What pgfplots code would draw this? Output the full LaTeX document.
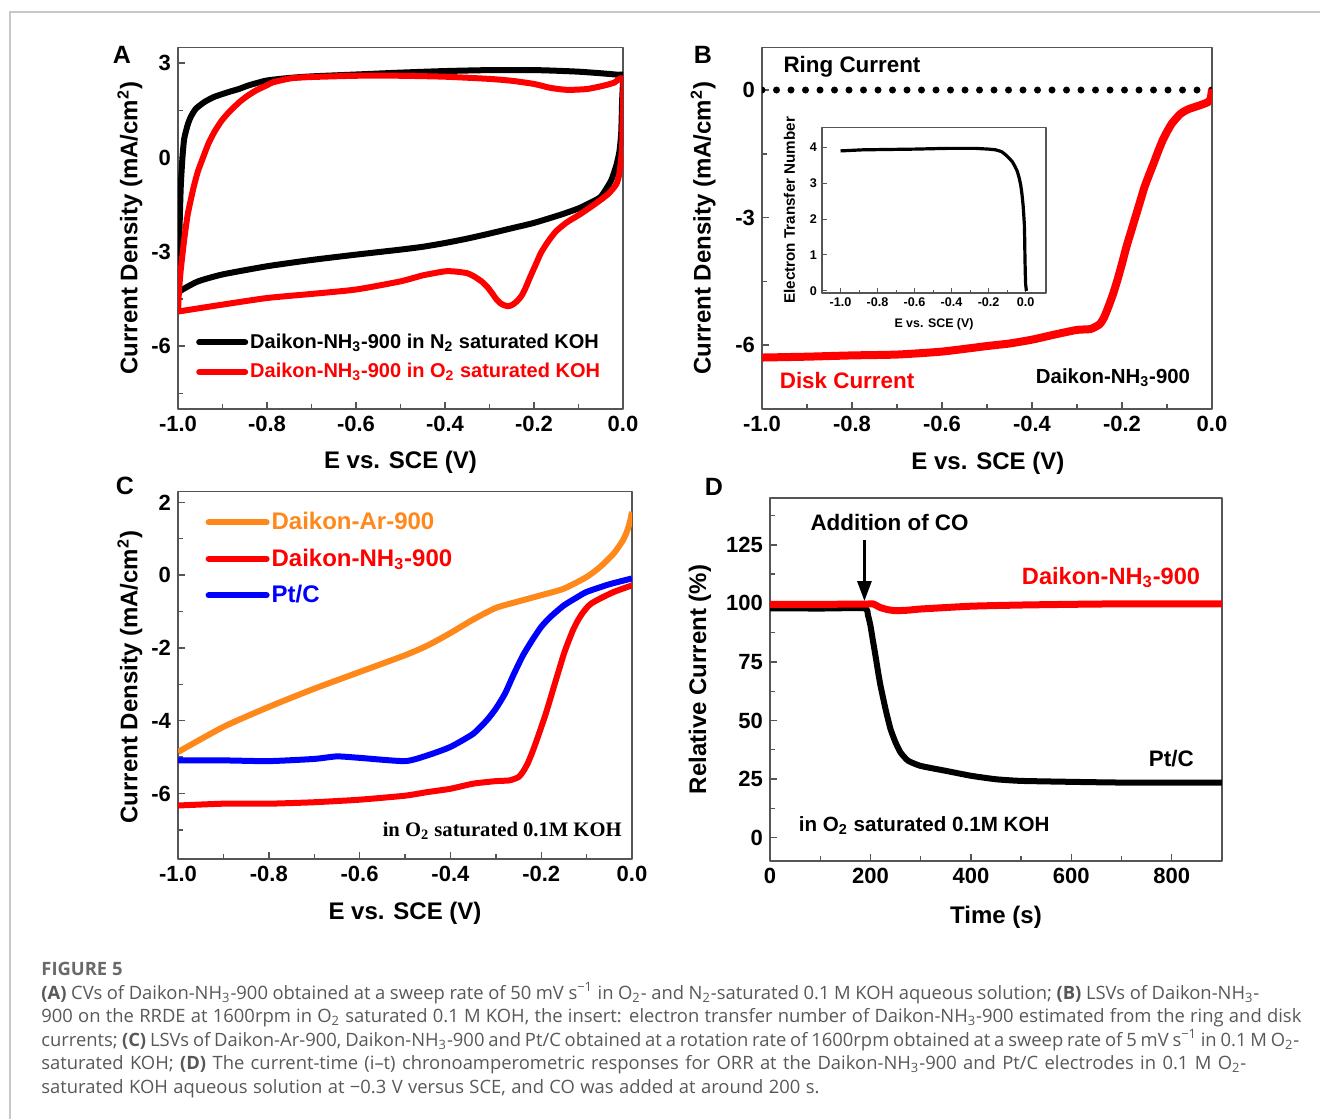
\documentclass[border=0pt]{standalone}
\usepackage{pgfplots}
\pgfplotsset{compat=1.18}
\usepackage{fontspec}
\setmainfont{Liberation Sans}
\newfontfamily\capfont{Open Sans}
\newfontfamily\timesfont{Liberation Serif}
\usetikzlibrary{arrows.meta}
\definecolor{axgray}{RGB}{85,85,85}
\definecolor{myorange}{RGB}{255,136,26}
\definecolor{capgray}{RGB}{88,88,88}
\definecolor{figgray}{RGB}{105,105,105}
\pgfplotsset{
  panel/.style={scale only axis, axis line style={draw=axgray, line width=0.8pt},
    tick align=inside, tick pos=left, major tick length=3.5pt, minor tick length=2.5pt,
    every tick/.style={draw=axgray, line width=0.7pt},
    tick label style={font=\fontsize{11}{12}\selectfont\bfseries},
    label style={font=\fontsize{12}{13}\selectfont\bfseries},
    line join=round},
}
\begin{document}
\begin{tikzpicture}
\useasboundingbox (0,0) rectangle (660pt,559.5pt);
\draw[black!22, line width=0.6pt] (5pt,0) -- (5pt,553.5pt) -- (660pt,553.5pt);
% ---------------- Panel A
\begin{axis}[panel, at={(89pt,355pt)}, anchor=south west, width=222.5pt, height=180.75pt,
  xmin=-1, xmax=0, ymin=-8, ymax=3.5,
  xtick={-1,-0.8,-0.6,-0.4,-0.2,0}, xticklabels={-1.0,-0.8,-0.6,-0.4,-0.2,0.0},
  minor xtick={-0.9,-0.7,-0.5,-0.3,-0.1},
  ytick={-6,-3,0,3}, yticklabels={-6,-3,0,3}, minor ytick={-7.5,-4.5,-1.5,1.5},
  xlabel={E vs. SCE (V)}, ylabel={Current Density (mA/cm\textsuperscript{2})},
  xlabel style={at={(axis description cs:0.5,-0.147)}, anchor=center},
  ylabel style={at={(axis description cs:-0.108,0.5)}, anchor=center},
  legend style={at={(axis description cs:0.04,0.215)}, anchor=north west, draw=none, fill=none,
    font=\fontsize{10}{11}\selectfont\bfseries, row sep=4pt, inner sep=0pt, nodes={inner sep=1pt}},
  legend cell align=left,
  legend image code/.code={\draw[#1, line cap=round] (0pt,0pt) -- (23pt,0pt);},
]
\addplot[black, line width=3pt, smooth, tension=0.35] coordinates {
(-1.0,-4.3) (-0.998,-3.0) (-0.994,-1.0) (-0.99,0.0) (-0.986,0.6) (-0.978,1.05) (-0.971,1.3)
(-0.96,1.55) (-0.94,1.77) (-0.92,1.92) (-0.9,2.02) (-0.88,2.11) (-0.863,2.18) (-0.84,2.3) (-0.8,2.45)
(-0.75,2.53) (-0.7,2.58) (-0.6,2.64) (-0.5,2.7) (-0.4,2.75) (-0.3,2.78) (-0.2,2.78) (-0.15,2.76)
(-0.1,2.73) (-0.05,2.68) (-0.01,2.63) (0.0,2.6) (-0.002,1.8) (-0.004,0.8) (-0.008,0.2) (-0.015,-0.25)
(-0.027,-0.74) (-0.05,-1.25) (-0.075,-1.45) (-0.1,-1.62) (-0.14,-1.82) (-0.2,-2.08) (-0.25,-2.25)
(-0.3,-2.42) (-0.35,-2.58) (-0.4,-2.72) (-0.45,-2.84) (-0.5,-2.93) (-0.6,-3.09) (-0.7,-3.26)
(-0.8,-3.46) (-0.9,-3.72) (-0.955,-3.94) (-0.99,-4.2) (-1.0,-4.3)};
\addlegendentry{Daikon-NH\textsubscript{3}-900 in N\textsubscript{2} saturated KOH}
\addplot[red, line width=3pt, smooth, tension=0.35] coordinates {
(-1.0,-4.9) (-0.998,-4.3) (-0.994,-3.6) (-0.986,-2.6) (-0.978,-1.8) (-0.965,-0.95) (-0.955,-0.43)
(-0.945,-0.05) (-0.932,0.43) (-0.918,0.82) (-0.902,1.17) (-0.885,1.45) (-0.863,1.75) (-0.845,1.95)
(-0.825,2.13) (-0.8,2.3) (-0.787,2.39) (-0.76,2.48) (-0.74,2.53) (-0.7,2.56) (-0.6,2.6) (-0.5,2.6)
(-0.4,2.57) (-0.3,2.5) (-0.25,2.44) (-0.2,2.34) (-0.165,2.22) (-0.14,2.17) (-0.12,2.15) (-0.08,2.18)
(-0.042,2.29) (-0.02,2.38) (0.0,2.5) (-0.001,1.2) (-0.002,0.3) (-0.004,0.0) (-0.008,-0.5)
(-0.015,-0.85) (-0.034,-1.17) (-0.065,-1.5) (-0.096,-1.8) (-0.127,-2.07) (-0.15,-2.34)
(-0.162,-2.55) (-0.173,-2.77) (-0.185,-3.05) (-0.196,-3.4) (-0.208,-3.78) (-0.219,-4.15)
(-0.228,-4.4) (-0.238,-4.57) (-0.248,-4.68) (-0.257,-4.73) (-0.267,-4.7) (-0.276,-4.63)
(-0.285,-4.5) (-0.295,-4.3) (-0.306,-4.1) (-0.318,-3.94) (-0.335,-3.78) (-0.35,-3.68)
(-0.375,-3.63) (-0.4,-3.62) (-0.45,-3.75) (-0.5,-3.94) (-0.6,-4.2) (-0.7,-4.34) (-0.8,-4.47)
(-0.9,-4.68) (-1.0,-4.9)};
\addlegendentry{\textcolor{red}{Daikon-NH\textsubscript{3}-900 in O\textsubscript{2} saturated KOH}}
\end{axis}
% ---------------- Panel B
\begin{axis}[panel, at={(381pt,355pt)}, anchor=south west, width=225pt, height=180.75pt,
  xmin=-1, xmax=0, ymin=-7.5, ymax=1,
  xtick={-1,-0.8,-0.6,-0.4,-0.2,0}, xticklabels={-1.0,-0.8,-0.6,-0.4,-0.2,0.0},
  minor xtick={-0.9,-0.7,-0.5,-0.3,-0.1},
  ytick={-6,-3,0}, yticklabels={-6,-3,0}, minor ytick={-4.5,-1.5},
  xlabel={E vs. SCE (V)}, ylabel={Current Density (mA/cm\textsuperscript{2})},
  xlabel style={at={(axis description cs:0.502,-0.149)}, anchor=center},
  ylabel style={at={(axis description cs:-0.131,0.5)}, anchor=center},
]
\addplot[black, line width=3.5pt, line cap=round, dash pattern=on 0pt off 7.25pt] coordinates {(-1.0,0) (0.0,0)};
\addplot[red, line width=4pt, smooth, tension=0.35] coordinates {
(-1.0,-6.29) (-0.9,-6.27) (-0.8,-6.24) (-0.7,-6.22) (-0.6,-6.15) (-0.5,-6.02) (-0.45,-5.96)
(-0.4,-5.87) (-0.35,-5.75) (-0.3,-5.64) (-0.27,-5.62) (-0.25,-5.51) (-0.24,-5.35) (-0.23,-5.09)
(-0.22,-4.8) (-0.21,-4.46) (-0.2,-4.08) (-0.19,-3.68) (-0.18,-3.33) (-0.17,-2.98) (-0.16,-2.63)
(-0.15,-2.28) (-0.14,-2.0) (-0.13,-1.73) (-0.12,-1.45) (-0.11,-1.19) (-0.1,-0.98) (-0.09,-0.8)
(-0.08,-0.67) (-0.07,-0.56) (-0.06,-0.49) (-0.05,-0.44) (-0.03,-0.37) (-0.01,-0.29) (-0.003,-0.2)
(0.0,0.02)};
\node[font=\fontsize{11.2}{12}\selectfont\bfseries] at (axis cs:-0.8,0.54) {Ring Current};
\node[font=\fontsize{11.2}{12}\selectfont\bfseries, text=red] at (axis cs:-0.811,-6.84) {Disk Current};
\node[font=\fontsize{10.2}{11}\selectfont\bfseries] at (axis cs:-0.22,-6.77) {Daikon-NH\textsubscript{3}-900};
\end{axis}
% ---------------- Inset
\begin{axis}[panel, at={(411pt,413pt)}, anchor=south west, width=112pt, height=82.7pt,
  axis background/.style={fill=white},
  xmin=-1.1, xmax=0.11, ymin=-0.06, ymax=4.55,
  major tick length=2.5pt, minor tick length=1.5pt,
  every tick/.style={draw=axgray, line width=0.5pt}, axis line style={draw=axgray, line width=0.6pt},
  xtick={-1,-0.8,-0.6,-0.4,-0.2,0}, xticklabels={-1.0,-0.8,-0.6,-0.4,-0.2,0.0},
  minor xtick={-0.9,-0.7,-0.5,-0.3,-0.1},
  ytick={0,1,2,3,4}, yticklabels={0,1,2,3,4},
  tick label style={font=\fontsize{6.3}{7}\selectfont\bfseries},
  xticklabel style={yshift=1pt}, yticklabel style={xshift=1pt},
  xlabel={E vs. SCE (V)}, ylabel={Electron Transfer Number},
  xlabel style={font=\fontsize{6.2}{7}\selectfont\bfseries, at={(axis description cs:0.5,-0.19)}, anchor=center},
  ylabel style={font=\fontsize{7.6}{8}\selectfont\bfseries, at={(axis description cs:-0.145,0.5)}, anchor=center},
]
\addplot[black, line width=1.6pt] coordinates {
(-1.0,3.9) (-0.88,3.93) (-0.6,3.95) (-0.43,3.97) (-0.27,3.97) (-0.2,3.95) (-0.162,3.93)
(-0.13,3.88) (-0.108,3.79) (-0.09,3.7) (-0.072,3.6) (-0.058,3.47) (-0.045,3.33) (-0.035,3.15)
(-0.027,2.96) (-0.02,2.7) (-0.014,2.4) (-0.01,2.1) (-0.007,1.85) (-0.005,1.4) (-0.004,1.0)
(-0.002,0.5) (0.0,0.18) (0.004,0.0)};
\end{axis}
% ---------------- Panel C
\begin{axis}[panel, at={(89pt,130pt)}, anchor=south west, width=227pt, height=183.75pt,
  xmin=-1, xmax=0, ymin=-7.8, ymax=2.3,
  xtick={-1,-0.8,-0.6,-0.4,-0.2,0}, xticklabels={-1.0,-0.8,-0.6,-0.4,-0.2,0.0},
  minor xtick={-0.9,-0.7,-0.5,-0.3,-0.1},
  ytick={-6,-4,-2,0,2}, yticklabels={-6,-4,-2,0,2}, minor ytick={-7,-5,-3,-1,1},
  xlabel={E vs. SCE (V)}, ylabel={Current Density (mA/cm\textsuperscript{2})},
  xlabel style={at={(axis description cs:0.5,-0.147)}, anchor=center},
  ylabel style={at={(axis description cs:-0.106,0.495)}, anchor=center},
  legend style={at={(axis description cs:0.06,0.95)}, anchor=north west, draw=none, fill=none,
    font=\fontsize{12}{13}\selectfont\bfseries, row sep=6pt, inner sep=0pt, nodes={inner sep=1pt}},
  legend cell align=left,
  legend image code/.code={\draw[#1, line cap=round] (0pt,0pt) -- (29pt,0pt);},
]
\addplot[myorange, line width=3pt, smooth, tension=0.4] coordinates {
(-1.0,-4.86) (-0.9,-4.17) (-0.8,-3.62) (-0.7,-3.12) (-0.6,-2.66) (-0.5,-2.2) (-0.45,-1.93)
(-0.4,-1.59) (-0.35,-1.22) (-0.3,-0.9) (-0.25,-0.72) (-0.2,-0.55) (-0.15,-0.37) (-0.1,-0.05)
(-0.07,0.23) (-0.04,0.6) (-0.02,0.96) (-0.01,1.24) (-0.004,1.5) (0.0,1.74)};
\addlegendentry{\textcolor{myorange}{Daikon-Ar-900}}
\addplot[red, line width=3pt, smooth, tension=0.35] coordinates {
(-1.0,-6.33) (-0.9,-6.28) (-0.8,-6.28) (-0.7,-6.24) (-0.6,-6.17) (-0.5,-6.06) (-0.45,-5.96)
(-0.4,-5.87) (-0.35,-5.73) (-0.3,-5.66) (-0.27,-5.64) (-0.25,-5.55) (-0.24,-5.4) (-0.23,-5.18)
(-0.22,-4.88) (-0.21,-4.54) (-0.2,-4.18) (-0.19,-3.81) (-0.18,-3.4) (-0.17,-2.98) (-0.16,-2.57)
(-0.15,-2.16) (-0.14,-1.82) (-0.13,-1.51) (-0.12,-1.26) (-0.11,-1.06) (-0.1,-0.9) (-0.09,-0.78)
(-0.07,-0.64) (-0.04,-0.46) (0.0,-0.28)};
\addlegendentry{\textcolor{red}{Daikon-NH\textsubscript{3}-900}}
\addplot[blue, line width=3pt, smooth, tension=0.35] coordinates {
(-1.0,-5.09) (-0.9,-5.09) (-0.8,-5.11) (-0.7,-5.05) (-0.65,-4.98) (-0.6,-5.02) (-0.5,-5.11)
(-0.45,-4.95) (-0.4,-4.72) (-0.35,-4.36) (-0.32,-3.99) (-0.3,-3.67) (-0.28,-3.26) (-0.26,-2.71)
(-0.24,-2.2) (-0.22,-1.79) (-0.2,-1.42) (-0.18,-1.15) (-0.15,-0.83) (-0.12,-0.6) (-0.1,-0.46)
(-0.05,-0.25) (0.0,-0.09)};
\addlegendentry{\textcolor{blue}{Pt/C}}
\node[font=\timesfont\fontsize{10.3}{11}\selectfont\bfseries] at (axis cs:-0.286,-7.02) {in O\textsubscript{2} saturated 0.1M KOH};
\end{axis}
% ---------------- Panel D
\begin{axis}[panel, at={(385pt,129pt)}, anchor=south west, width=226pt, height=181.5pt,
  xmin=0, xmax=900, ymin=-10, ymax=145,
  xtick={0,200,400,600,800}, xticklabels={0,200,400,600,800}, minor xtick={100,300,500,700},
  ytick={0,25,50,75,100,125}, yticklabels={0,25,50,75,100,125},
  minor ytick={12.5,37.5,62.5,87.5,112.5,137.5},
  xlabel={Time (s)}, ylabel={Relative Current (\%)},
  xlabel style={at={(axis description cs:0.5,-0.154)}, anchor=center},
  ylabel style={at={(axis description cs:-0.155,0.5)}, anchor=center},
]
\addplot[black, line width=3pt, smooth, tension=0.3] coordinates {
(0,97.9) (100,97.8) (188,97.9) (195,95) (200,90.5) (205,84) (210,77.7) (215,71) (220,64.9)
(230,54.9) (240,46.3) (250,40.6) (260,36.3) (275,32.8) (300,30.6) (350,28.5) (400,26.4)
(450,24.9) (500,24.2) (600,23.8) (700,23.5) (900,23.5)};
\addplot[red, line width=3.5pt, smooth, tension=0.3] coordinates {
(0,99.6) (100,99.6) (190,99.7) (205,99.8) (220,98.2) (235,97.3) (250,96.9) (275,97.1)
(300,97.6) (400,98.8) (500,99.3) (600,99.6) (700,99.8) (900,99.8)};
\draw[black, line width=1.5pt, -{Triangle[length=10pt, width=7pt]}] (axis cs:188,127) -- (axis cs:188,101);
\node[font=\fontsize{11.2}{12}\selectfont\bfseries] at (axis cs:238,134.7) {Addition of CO};
\node[font=\fontsize{11.8}{12}\selectfont\bfseries, text=red] at (axis cs:679,111) {Daikon-NH\textsubscript{3}-900};
\node[font=\fontsize{11.2}{12}\selectfont\bfseries] at (axis cs:799,33.8) {Pt/C};
\node[font=\fontsize{10.3}{11}\selectfont\bfseries] at (axis cs:307,5) {in O\textsubscript{2} saturated 0.1M KOH};
\end{axis}
% ---------------- Panel letters
\node[font=\fontsize{12.5}{13}\selectfont\bfseries] at (61pt,532pt) {A};
\node[font=\fontsize{12.5}{13}\selectfont\bfseries] at (351.5pt,532pt) {B};
\node[font=\fontsize{12.5}{13}\selectfont\bfseries] at (62.5pt,316.5pt) {C};
\node[font=\fontsize{12.5}{13}\selectfont\bfseries] at (357pt,316pt) {D};
% ---------------- Caption
\begin{scope}[every node/.style={anchor=base west, inner sep=0pt, text=capgray, font=\capfont\fontsize{9.2}{10}\selectfont}]
\node[text=figgray, font=\capfont\bfseries\fontsize{9.2}{10}\selectfont] at (20.5pt,72pt) {FIGURE 5};
\node at (20.5pt,60pt) {\makebox[609pt][s]{{\bfseries(A)} CVs of Daikon-NH\textsubscript{3}-900 obtained at a sweep rate of 50 mV s\textsuperscript{−1} in O\textsubscript{2}- and N\textsubscript{2}-saturated 0.1 M KOH aqueous solution; {\bfseries(B)} LSVs of Daikon-NH\textsubscript{3}-}};
\node at (20.5pt,48.25pt) {\makebox[630pt][s]{900 on the RRDE at 1600rpm in O\textsubscript{2} saturated 0.1 M KOH, the insert: electron transfer number of Daikon-NH\textsubscript{3}-900 estimated from the ring and disk}};
\node at (20.5pt,36.5pt) {\makebox[629pt][s]{currents; {\bfseries(C)} LSVs of Daikon-Ar-900, Daikon-NH\textsubscript{3}-900 and Pt/C obtained at a rotation rate of 1600rpm obtained at a sweep rate of 5 mV s\textsuperscript{−1} in 0.1 M O\textsubscript{2}-}};
\node at (20.5pt,24.75pt) {\makebox[602.5pt][s]{saturated KOH; {\bfseries(D)} The current-time (i–t) chronoamperometric responses for ORR at the Daikon-NH\textsubscript{3}-900 and Pt/C electrodes in 0.1 M O\textsubscript{2}-}};
\node at (20.5pt,13pt) {\makebox[389pt][s]{saturated KOH aqueous solution at −0.3 V versus SCE, and CO was added at around 200 s.}};
\end{scope}
\end{tikzpicture}
\end{document}
